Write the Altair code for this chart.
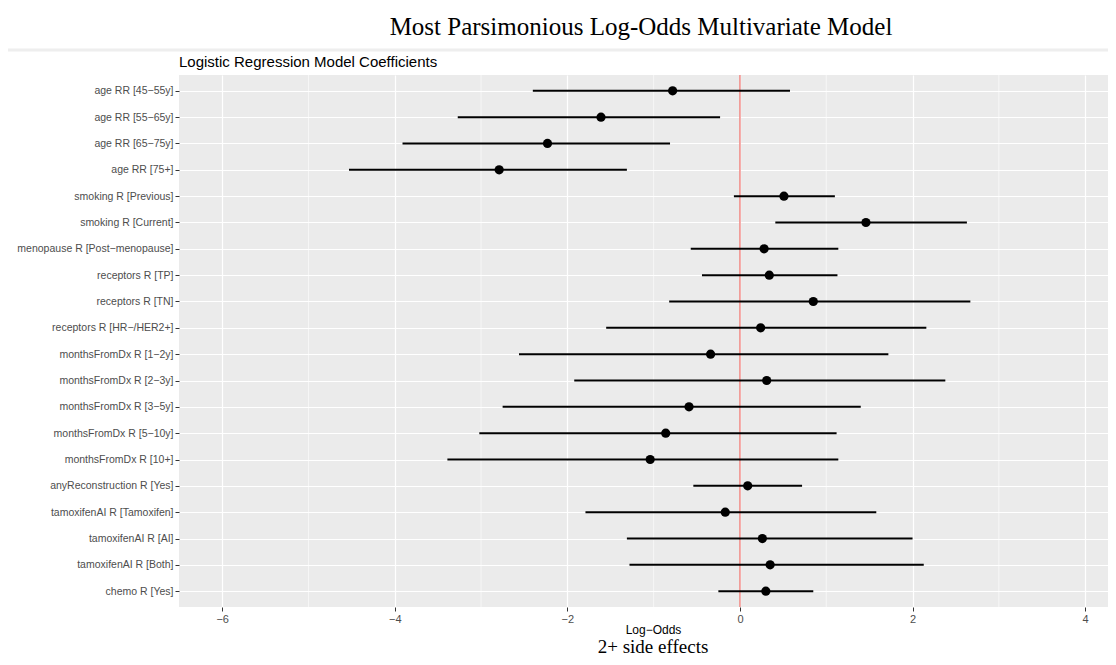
import altair as alt
import pandas as pd

terms = [
    "age RR [45\u221255y]", "age RR [55\u221265y]", "age RR [65\u221275y]", "age RR [75+]",
    "smoking R [Previous]", "smoking R [Current]", "menopause R [Post\u2212menopause]",
    "receptors R [TP]", "receptors R [TN]", "receptors R [HR\u2212/HER2+]",
    "monthsFromDx R [1\u22122y]", "monthsFromDx R [2\u22123y]", "monthsFromDx R [3\u22125y]",
    "monthsFromDx R [5\u221210y]", "monthsFromDx R [10+]", "anyReconstruction R [Yes]",
    "tamoxifenAI R [Tamoxifen]", "tamoxifenAI R [AI]", "tamoxifenAI R [Both]", "chemo R [Yes]",
]
estimate = [-0.78, -1.61, -2.23, -2.79, 0.51, 1.46, 0.28, 0.34, 0.85, 0.24,
            -0.34, 0.31, -0.59, -0.86, -1.04, 0.09, -0.17, 0.26, 0.35, 0.30]
conf_low = [-2.40, -3.27, -3.91, -4.53, -0.07, 0.41, -0.57, -0.44, -0.82, -1.55,
            -2.56, -1.92, -2.75, -3.02, -3.39, -0.54, -1.79, -1.31, -1.28, -0.25]
conf_high = [0.58, -0.23, -0.81, -1.31, 1.10, 2.63, 1.14, 1.13, 2.67, 2.16,
             1.72, 2.38, 1.40, 1.12, 1.14, 0.72, 1.58, 2.00, 2.13, 0.85]

major_ticks = [-6, -4, -2, 0, 2, 4]
minor_ticks = [-5, -3, -1, 1, 3]
ref_line = [0]

df = pd.DataFrame({"term": terms, "estimate": estimate, "low": conf_low, "high": conf_high})

W, H = 929, 532
xscale = alt.Scale(domain=[-6.5, 4.265], nice=False, zero=False)
yscale = alt.Scale(type="point", padding=0.6)

base = alt.Chart(df)

minor = alt.Chart(pd.DataFrame({"v": minor_ticks})).mark_rule(
    color="white", strokeWidth=0.6
).encode(x=alt.X("v:Q", scale=xscale))

ref = alt.Chart(pd.DataFrame({"v": ref_line})).mark_rule(
    color="#f08a86", strokeWidth=1.5
).encode(x=alt.X("v:Q", scale=xscale))

bars = base.mark_rule(color="black", strokeWidth=2).encode(
    y=alt.Y("term:N", sort=terms, scale=yscale),
    x=alt.X("low:Q", scale=xscale),
    x2="high:Q",
)

points = base.mark_point(filled=True, color="black", opacity=1, size=85).encode(
    y=alt.Y(
        "term:N", sort=terms, scale=yscale,
        axis=alt.Axis(
            title=None, labelFont="Liberation Sans", labelFontSize=10.5, labelColor="#4d4d4d",
            tickColor="#333333", tickSize=4, tickWidth=1, labelPadding=2, domain=False,
            grid=True, gridColor="white", gridWidth=1.2,
        ),
    ),
    x=alt.X(
        "estimate:Q", scale=xscale,
        axis=alt.Axis(
            values=major_ticks, format="d", title="Log\u2212Odds", titleFont="Liberation Sans",
            titleFontSize=12, titleFontWeight="normal", titleColor="black",
            titleX=474, titleY=22, titleBaseline="middle",
            labelFont="Liberation Sans", labelFontSize=11, labelColor="#4d4d4d",
            tickColor="#333333", tickSize=4, tickWidth=1, labelPadding=2, domain=False,
            grid=True, gridColor="white", gridWidth=1.2,
        ),
    ),
)

one = alt.Data(values=[{"a": 1}])

title = alt.Chart(one).mark_text(
    text="Most Parsimonious Log-Odds Multivariate Model", font="Liberation Serif",
    fontSize=25, color="black", align="center", baseline="alphabetic",
).encode(x=alt.value(462), y=alt.value(-40))

subtitle = alt.Chart(one).mark_text(
    text="Logistic Regression Model Coefficients", font="Liberation Sans",
    fontSize=15, color="black", align="left", baseline="middle",
).encode(x=alt.value(0), y=alt.value(-13))

caption = alt.Chart(one).mark_text(
    text="2+ side effects", font="Liberation Serif",
    fontSize=19, color="black", align="center", baseline="alphabetic",
).encode(x=alt.value(474), y=alt.value(578))

sep = alt.Chart(one).mark_rule(color="#eeeeee", strokeWidth=3).encode(
    x=alt.value(-171), x2=alt.value(W), y=alt.value(-25)
)

chart = alt.layer(minor, ref, bars, points, title, subtitle, caption, sep).properties(
    width=W, height=H,
    autosize=alt.AutoSizeParams(type="none"),
    padding={"left": 171, "top": 67, "right": 0, "bottom": 50},
    background="white",
).configure_view(fill="#ebebeb", stroke=None)

chart.save("out.html", embed_options={"renderer": "svg", "actions": False})
